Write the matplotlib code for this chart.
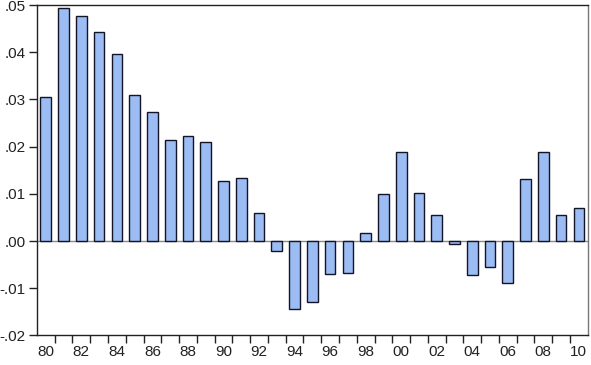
import numpy as np
import matplotlib
matplotlib.use("Agg")
import matplotlib.pyplot as plt

# --- data ---
years = list(range(1980, 2011))
values = [0.0306, 0.0494, 0.0477, 0.0443, 0.0396, 0.0310, 0.0274, 0.0215, 0.0223, 0.0209,
          0.0128, 0.0134, 0.0060, -0.0021, -0.0143, -0.0130, -0.0070, -0.0068, 0.0017, 0.0100,
          0.0188, 0.0102, 0.0056, -0.0007, -0.0072, -0.0055, -0.0089, 0.0132, 0.0188, 0.0056,
          0.0069]
y_ticks = [-0.02, -0.01, 0.00, 0.01, 0.02, 0.03, 0.04, 0.05]
y_labels = ["-.02", "-.01", ".00", ".01", ".02", ".03", ".04", ".05"]
x_label_years = list(range(1980, 2011, 2))
x_labels = [f"{y % 100:02d}" for y in x_label_years]

plt.rcParams["font.family"] = ["Liberation Sans", "DejaVu Sans"]

fig = plt.figure(figsize=(5.91, 3.65), dpi=100)
ax = fig.add_axes([0.0625, 0.081, 0.932, 0.905])

ax.bar(years, values, width=0.6, color="#9BBDF3", edgecolor="#141428", linewidth=1.0, zorder=2)
ax.axhline(0, color="#8a8a8a", linewidth=1.0, zorder=1)

ax.set_xlim(1979.5, 2010.5)
ax.set_ylim(-0.02, 0.05)

ax.set_yticks(y_ticks)
ax.set_yticklabels(y_labels)

# ticks sit between bars, labels under every other bar
ax.set_xticks(np.arange(1980.5, 2010.5, 1.0))
ax.set_xticklabels([])
ax.set_xticks(x_label_years, minor=True)
ax.set_xticklabels(x_labels, minor=True)
ax.tick_params(axis="x", which="major", direction="out", length=6, width=1, color="#222")
ax.tick_params(axis="x", which="minor", length=0, pad=7, labelsize=11, labelcolor="#222")
ax.tick_params(axis="y", direction="out", length=6, width=1, color="#222",
               labelsize=11, labelcolor="#222", pad=2)

for side in ["left", "bottom", "top"]:
    ax.spines[side].set_color("#222")
ax.spines["right"].set_color("#777")
for s in ax.spines.values():
    s.set_linewidth(1.0)

fig.savefig("out.png", dpi=100)
